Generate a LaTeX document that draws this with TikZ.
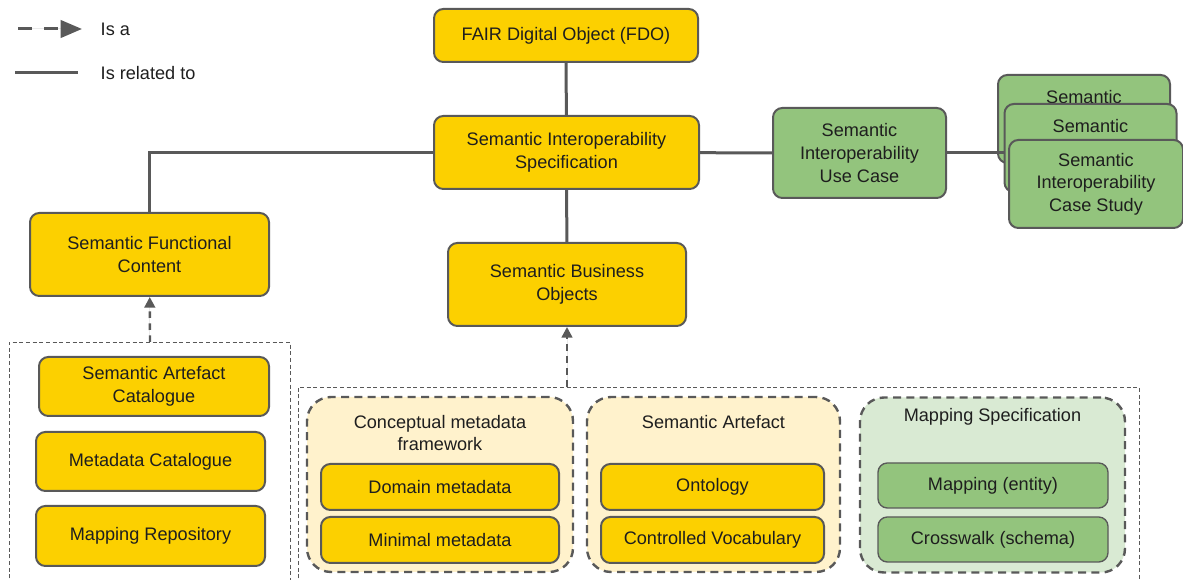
\documentclass[tikz,border=0pt]{standalone}
\usepackage{fontspec}
\setmainfont{Liberation Sans}
\usetikzlibrary{arrows.meta,positioning}
\definecolor{boxyellow}{HTML}{FCD000}
\definecolor{boxgreen}{HTML}{93C47D}
\definecolor{lightyellow}{HTML}{FFF2CC}
\definecolor{lightgreen}{HTML}{D9EAD3}
\definecolor{edgegray}{HTML}{595959}
\definecolor{darktext}{HTML}{1E1E1E}

\begin{document}
\begin{tikzpicture}[x=0.75pt,y=-0.75pt,
      >={Triangle[length=8pt,width=8pt]},
      font=\fontsize{13.6}{17}\selectfont,
      every node/.style={text=darktext,align=center},
      box/.style={rounded corners=7pt,draw=edgegray,line width=1.5pt,fill=boxyellow,inner sep=2pt},
      gbox/.style={box,fill=boxgreen},
      group/.style={rounded corners=18pt,draw=edgegray,line width=1.8pt,dash pattern=on 6pt off 4pt},
      holder/.style={draw=edgegray,line width=0.7pt,dash pattern=on 3pt off 2pt},
      rel/.style={draw=edgegray,line width=2.25pt},
      isa/.style={->,draw=edgegray,line width=1.8pt,dash pattern=on 5pt off 4pt}]
    \useasboundingbox (0,0) rectangle (1183,580);

    % legend
    \coordinate (isaA) at (18,29);
    \coordinate (isaB) at (82,29);
    \coordinate (relA) at (15,73);
    \coordinate (relB) at (78,73);
    \draw[isa,line width=2.25pt,dash pattern=on 10.5pt off 9pt,>={Triangle[length=16pt,width=13pt]},fill=edgegray] (isaA) -- (isaB);
    \draw[rel] (relA) -- (relB);
    \node[anchor=west] (isalbl) at (96,29) {Is a};
    \node[anchor=west] (rellbl) at (96,73) {Is related to};

    % top row
    \node[box,minimum width=198pt,minimum height=39.75pt] (fdo) at (566,35.5) {FAIR Digital Object (FDO)};
    \node[box,minimum width=198.75pt,minimum height=54.75pt] (sis) at (566.5,152.5) {Semantic Interoperability\\ Specification};
    \node[box,minimum width=179.25pt,minimum height=62.25pt] (sfc) at (149.5,254.5) {Semantic Functional\\ Content};
    \node[box,minimum width=178.5pt,minimum height=62.25pt] (sbo) at (567,284.5) {Semantic Business\\ Objects};
    \node[gbox,minimum width=129.75pt,minimum height=67.5pt] (usecase) at (859.5,153) {Semantic\\ Interoperability\\ Use Case};

    % stack of case studies
    \node[gbox,minimum width=129pt,minimum height=66pt] (cs1) at (1084,119) {};
    \node[anchor=north] (cs1lbl) at ([yshift=-9pt]cs1.north) {Semantic};
    \node[gbox,minimum width=129pt,minimum height=66pt] (cs2) at (1090.5,148) {};
    \node[anchor=north] (cs2lbl) at ([yshift=-9pt]cs2.north) {Semantic};
    \node[gbox,minimum width=130.5pt,minimum height=66pt] (cs3) at (1096,184) {Semantic\\ Interoperability\\ Case Study};

    \draw[rel] (fdo) -- (sis);
    \draw[rel] (sis) -- (sbo);
    \draw[rel] (sis) -- (usecase);
    \draw[rel] (usecase.east) -- (usecase.east -| cs2.west);
    \draw[rel] (sfc.north) |- (sis.west);

    % left holder
    \draw[holder] (9,585) |- (290,342) -- (290,585);
    \coordinate (lefttop) at (150,342);
    \node[box,minimum width=172.5pt,minimum height=44.25pt] (sac) at (154,386.5) {Semantic Artefact\\ Catalogue};
    \node[box,minimum width=171.75pt,minimum height=44.25pt] (mc) at (150.5,461.5) {Metadata Catalogue};
    \node[box,minimum width=171.75pt,minimum height=45pt] (mr) at (150.5,536) {Mapping Repository};
    \draw[isa,fill=edgegray] (lefttop) -- (sfc);

    % right holder
    \draw[holder] (298,585) |- (1139,387) -- (1139,585);
    \coordinate (righttop) at (567,387);
    \draw[isa,fill=edgegray] (righttop) -- (sbo);

    \node[group,fill=lightyellow,minimum width=199.5pt,minimum height=131.25pt] (cmf) at (440,484.5) {};
    \node (cmflbl) at (440,433) {Conceptual metadata\\ framework};
    \node[box,minimum width=178.5pt,minimum height=34.5pt] (dm) at (440,487) {Domain metadata};
    \node[box,minimum width=178.5pt,minimum height=34.5pt] (mm) at (440,540) {Minimal metadata};

    \node[group,fill=lightyellow,minimum width=189.75pt,minimum height=131.25pt] (sa) at (713.5,484.5) {};
    \node (salbl) at (713.5,422) {Semantic Artefact};
    \node[box,minimum width=167.25pt,minimum height=34.5pt] (onto) at (712.5,487) {Ontology};
    \node[box,minimum width=167.25pt,minimum height=34.5pt] (cv) at (712.5,540) {Controlled Vocabulary};

    \node[group,fill=lightgreen,minimum width=198.75pt,minimum height=131.25pt] (ms) at (992.5,485) {};
    \node (mslbl) at (992.5,417) {Mapping Specification};
    \node[gbox,line width=1pt,minimum width=172.5pt,minimum height=33.75pt] (mapent) at (993,485.5) {Mapping (entity)};
    \node[gbox,line width=1pt,minimum width=172.5pt,minimum height=33.75pt] (cw) at (993,539.5) {Crosswalk (schema)};
  \end{tikzpicture}
\end{document}
